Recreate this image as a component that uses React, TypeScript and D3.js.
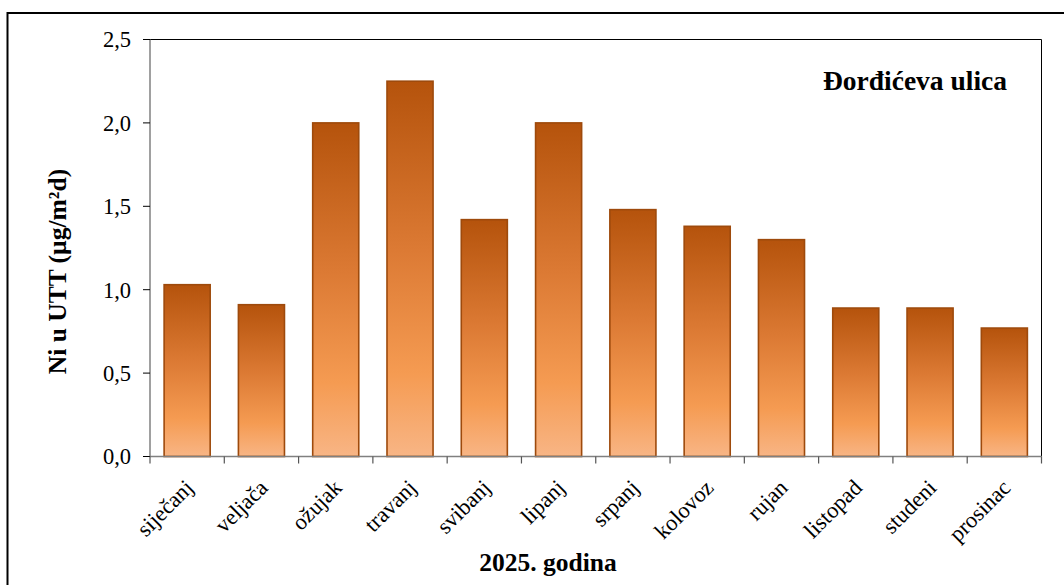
import React from "react";
import * as d3 from "d3";

const months = ["siječanj", "veljača", "ožujak", "travanj", "svibanj", "lipanj", "srpanj", "kolovoz", "rujan", "listopad", "studeni", "prosinac"];
const values = [1.03, 0.91, 2.0, 2.25, 1.42, 2.0, 1.48, 1.38, 1.3, 0.89, 0.89, 0.77];
const yTicks = [0, 0.5, 1.0, 1.5, 2.0, 2.5];
const yTickLabels = ["0,0", "0,5", "1,0", "1,5", "2,0", "2,5"];
const title = "Đorđićeva ulica";
const yTitle = "Ni u UTT (µg/m²d)";
const xTitle = "2025. godina";

const W = 1064, H = 585;
const left = 150, right = 1041.5, top = 39.5, bottom = 456.5;
const font = "'Liberation Serif', 'Times New Roman', serif";

export default function App() {
  const x = d3.scaleBand<string>().domain(months).range([left, right]).paddingInner(0.38).paddingOuter(0.19);
  const y = d3.scaleLinear().domain([0, 2.5]).range([bottom, top]);
  const step = (right - left) / months.length;

  return (
    <svg width={W} height={H} style={{ position: "absolute", left: 0, top: 0, background: "#fff" }}>
      <defs>
        <linearGradient id="barGrad" x1="0" y1="0" x2="0" y2="1">
          <stop offset="0" stopColor="#B5530C" />
          <stop offset="0.45" stopColor="#DC7A34" />
          <stop offset="0.78" stopColor="#F59B52" />
          <stop offset="1" stopColor="#F8B585" />
        </linearGradient>
      </defs>
      <rect x={7.5} y={13} width={1070} height={600} fill="none" stroke="#000" strokeWidth={2} />
      <line x1={left} x2={right} y1={top} y2={top} stroke="#000" strokeWidth={1} />
      <line x1={right} x2={right} y1={top} y2={bottom} stroke="#000" strokeWidth={1} />
      {months.map((m, i) => (
        <rect key={m} x={x(m)!} y={y(values[i])} width={x.bandwidth()} height={y(0) - y(values[i])}
          fill="url(#barGrad)" stroke="#9E4A0C" strokeWidth={1.6} />
      ))}
      <line x1={left} x2={left} y1={top} y2={bottom} stroke="#808080" strokeWidth={1.5} />
      {yTicks.map((t, i) => (
        <g key={t}>
          <line x1={left - 7} x2={left} y1={y(t)} y2={y(t)} stroke="#000" strokeWidth={1} />
          <text x={131} y={y(t)} dy="0.35em" textAnchor="end" fontFamily={font} fontSize={22.5} fill="#000">{yTickLabels[i]}</text>
        </g>
      ))}
      <line x1={left} x2={right} y1={bottom} y2={bottom} stroke="#808080" strokeWidth={1.5} />
      {d3.range(months.length + 1).map((i) => (
        <line key={i} x1={left + i * step} x2={left + i * step} y1={bottom} y2={bottom + 7} stroke="#555" strokeWidth={1.2} />
      ))}
      {months.map((m) => {
        const cx = x(m)! + x.bandwidth() / 2;
        return (
          <text key={m} transform={`translate(${cx + 2},${bottom + 27}) rotate(-45)`} textAnchor="end" dy="0.35em"
            fontFamily={font} fontSize={22.5} fill="#000">{m}</text>
        );
      })}
      <text x={1007} y={90} textAnchor="end" fontFamily={font} fontSize={27.5} fontWeight="bold" fill="#000">{title}</text>
      <text transform={`translate(66,271.5) rotate(-90)`} textAnchor="middle" fontFamily={font} fontSize={25.5} fontWeight="bold" fill="#000">{yTitle}</text>
      <text x={548} y={571} textAnchor="middle" fontFamily={font} fontSize={25.5} fontWeight="bold" fill="#000">{xTitle}</text>
    </svg>
  );
}
